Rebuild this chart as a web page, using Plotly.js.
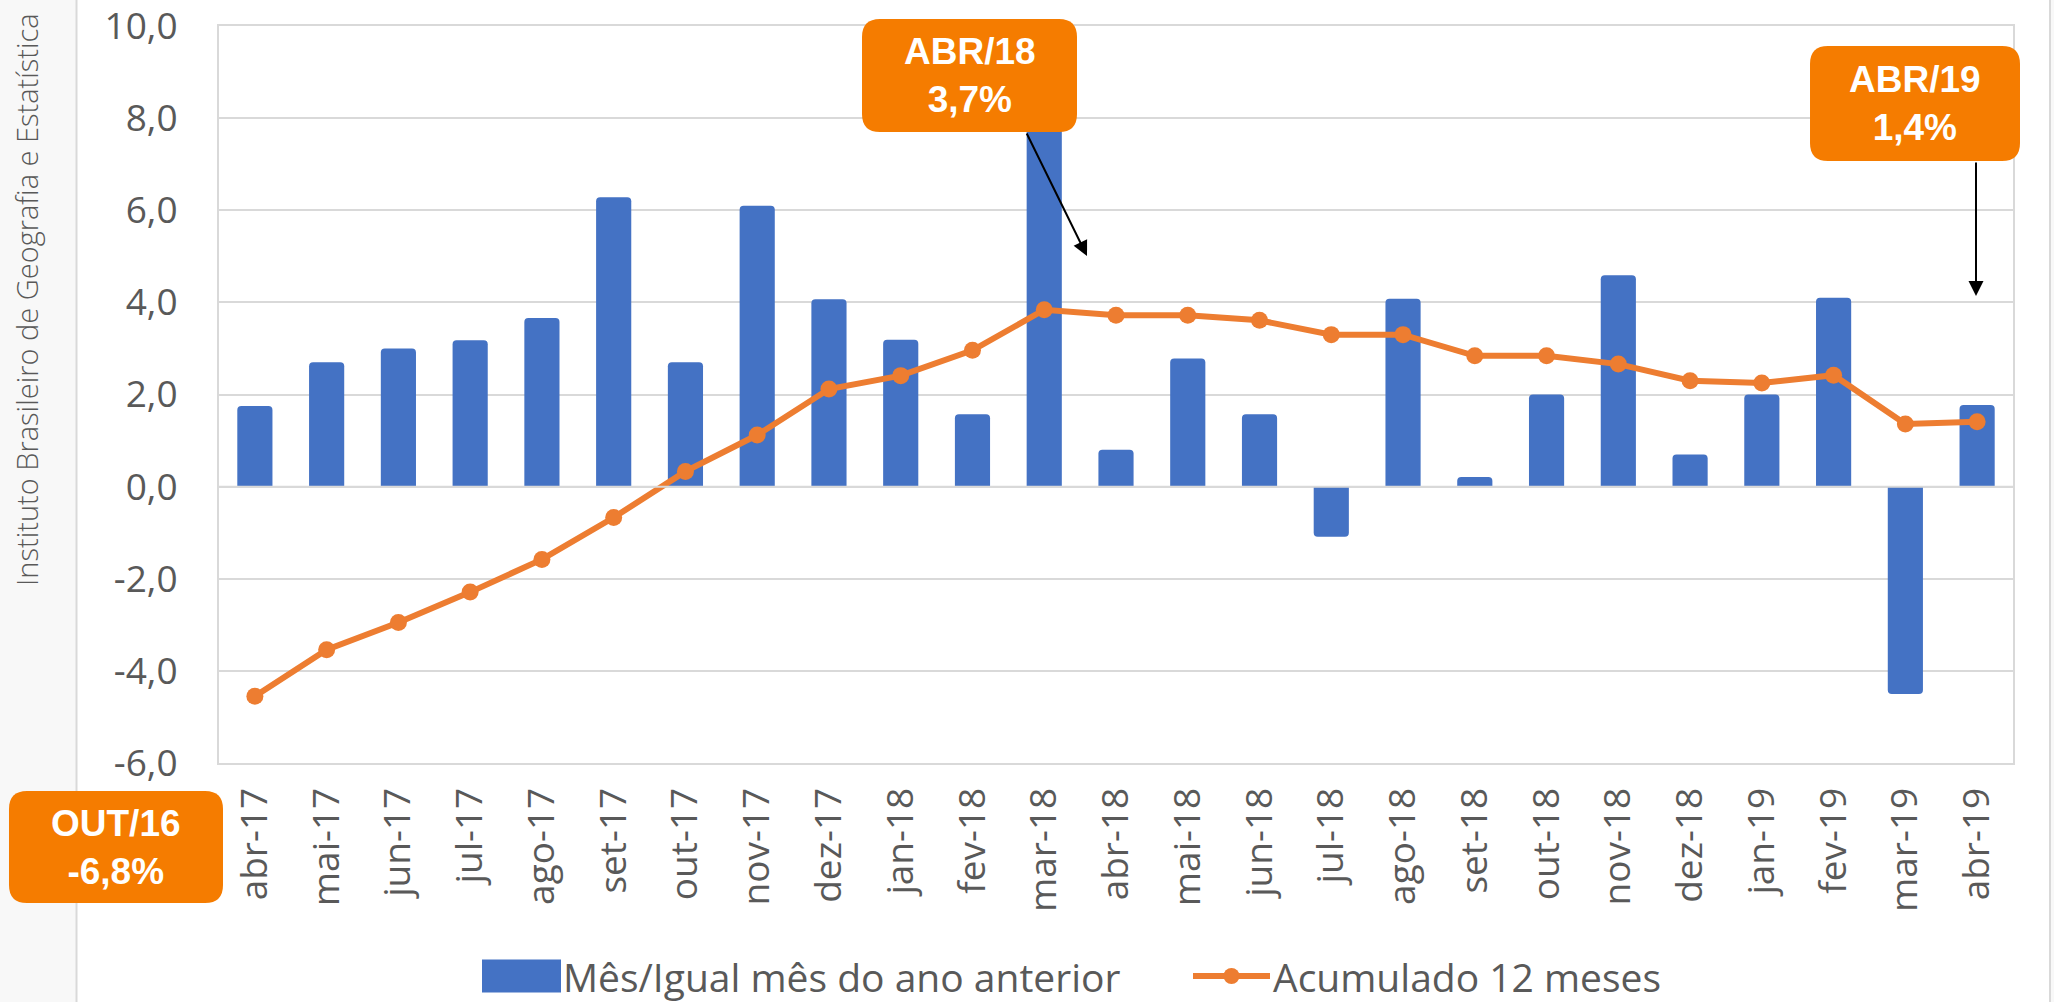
<!DOCTYPE html>
<html>
<head>
<meta charset="utf-8">
<script src="https://cdn.plot.ly/plotly-3.0.1.min.js"></script>
<style>
html,body{margin:0;padding:0;background:#ffffff;}
#chart{width:2054px;height:1002px;}
</style>
</head>
<body>
<div id="chart"></div>
<script>
// ---------------- DATA ----------------
const categories = ['abr-17','mai-17','jun-17','jul-17','ago-17','set-17','out-17','nov-17','dez-17',
  'jan-18','fev-18','mar-18','abr-18','mai-18','jun-18','jul-18','ago-18','set-18','out-18','nov-18','dez-18',
  'jan-19','fev-19','mar-19','abr-19'];
const monthVsSameMonth = [1.75, 2.70, 3.00, 3.18, 3.66, 6.28, 2.70, 6.10, 4.07,
  3.19, 1.57, 8.60, 0.80, 2.78, 1.57, -1.09, 4.08, 0.21, 2.00, 4.59, 0.70,
  2.00, 4.10, -4.50, 1.77];
const accumulated12m = [-4.55, -3.54, -2.95, -2.29, -1.58, -0.67, 0.33, 1.12, 2.12,
  2.41, 2.96, 3.84, 3.72, 3.72, 3.61, 3.30, 3.30, 2.84, 2.84, 2.66, 2.30,
  2.25, 2.42, 1.36, 1.41];
const seriesNames = ['Mês/Igual mês do ano anterior', 'Acumulado 12 meses'];
const yTickVals = [-6, -4, -2, 0, 2, 4, 6, 8, 10];
const yTickText = ['-6,0', '-4,0', '-2,0', '0,0', '2,0', '4,0', '6,0', '8,0', '10,0'];
const yAxisTitle = 'Instituto Brasileiro de Geografia e Estatística';
const calloutTexts = ['ABR/18<br>3,7%', 'ABR/19<br>1,4%', 'OUT/16<br>-6,8%'];

// ---------------- LAYOUT GEOMETRY (pixels) ----------------
const FW = 2054, FH = 1002;
const L = 219, R = 2013, T = 26, B = 763;
const PW = R - L, PH = B - T;
const px = x => (x - L) / PW;
const py = y => (B - y) / PH;

function roundRect(x0, y0, x1, y1, r) {
  const p = (x, y) => px(x).toFixed(5) + ',' + py(y).toFixed(5);
  return 'M' + p(x0 + r, y0) + ' L' + p(x1 - r, y0) + ' Q' + p(x1, y0) + ' ' + p(x1, y0 + r) +
    ' L' + p(x1, y1 - r) + ' Q' + p(x1, y1) + ' ' + p(x1 - r, y1) +
    ' L' + p(x0 + r, y1) + ' Q' + p(x0, y1) + ' ' + p(x0, y1 - r) +
    ' L' + p(x0, y0 + r) + ' Q' + p(x0, y0) + ' ' + p(x0 + r, y0) + ' Z';
}

const boxes = [
  {x0: 862, y0: 19, x1: 1077, y1: 132},
  {x0: 1810, y0: 46, x1: 2020, y1: 161},
  {x0: 9, y0: 791, x1: 223, y1: 903}
];
const arrows = [
  {tx: 1026, ty: 132, hx: 1087, hy: 256},
  {tx: 1976, ty: 161, hx: 1976, hy: 296}
];

const ORANGE_BOX = '#F57C00';
const GRID = '#d9d9d9';
const TXT = '#595959';

// ---------------- TRACES ----------------
const data = [
  {
    type: 'bar',
    name: seriesNames[0],
    x: categories,
    y: monthVsSameMonth,
    marker: {color: '#4472C4', cornerradius: 4},
    hoverinfo: 'skip'
  },
  {
    type: 'scatter',
    mode: 'lines+markers',
    name: seriesNames[1],
    x: categories,
    y: accumulated12m,
    line: {color: '#ED7D31', width: 6},
    marker: {color: '#ED7D31', size: 17},
    hoverinfo: 'skip'
  }
];

// ---------------- SHAPES ----------------
const shapes = [
  {type: 'rect', xref: 'paper', yref: 'paper', x0: px(0), x1: px(76), y0: py(FH), y1: py(0),
   fillcolor: '#f8f8f8', line: {width: 0}, layer: 'below'},
  {type: 'line', xref: 'paper', yref: 'paper', x0: px(76.5), x1: px(76.5), y0: py(FH), y1: py(0),
   line: {color: GRID, width: 2}, layer: 'below'},
  {type: 'rect', xref: 'paper', yref: 'paper', x0: px(2050), x1: px(2054), y0: py(FH), y1: py(0),
   fillcolor: '#f8f8f8', line: {width: 0}, layer: 'below'},
  {type: 'line', xref: 'paper', yref: 'paper', x0: px(2050), x1: px(2050), y0: py(FH), y1: py(0),
   line: {color: GRID, width: 2}, layer: 'below'},
  {type: 'line', xref: 'paper', yref: 'y', x0: 0, x1: 1, y0: 0, y1: 0,
   line: {color: GRID, width: 2}, layer: 'above'}
];
boxes.forEach(b => shapes.push({
  type: 'path', xref: 'paper', yref: 'paper', path: roundRect(b.x0, b.y0, b.x1, b.y1, 18),
  fillcolor: ORANGE_BOX, line: {width: 0}, layer: 'above'
}));

// ---------------- ANNOTATIONS ----------------
const annotations = [
  {text: yAxisTitle, xref: 'paper', yref: 'paper', x: px(26), y: py(300), textangle: -90,
   showarrow: false, xanchor: 'center', yanchor: 'middle',
   font: {family: 'Open Sans, Noto Sans, sans-serif', size: 29, color: TXT, weight: 300}}
];
boxes.forEach((b, i) => annotations.push({
  text: calloutTexts[i], xref: 'paper', yref: 'paper',
  x: px((b.x0 + b.x1) / 2), y: py((b.y0 + b.y1) / 2),
  showarrow: false, xanchor: 'center', yanchor: 'middle', align: 'center',
  font: {family: 'Liberation Sans, Arial, sans-serif', size: 37, color: '#ffffff', weight: 700}
}));
arrows.forEach(a => annotations.push({
  text: '', xref: 'paper', yref: 'paper', axref: 'paper', ayref: 'paper',
  x: px(a.hx), y: py(a.hy), ax: px(a.tx), ay: py(a.ty),
  showarrow: true, arrowhead: 2, arrowsize: 1.5, arrowwidth: 2, arrowcolor: '#000000',
  standoff: 0, startstandoff: 0
}));

// ---------------- LAYOUT ----------------
const tickFont = {family: 'Open Sans, Noto Sans, sans-serif', size: 37, color: TXT};
const legendCY = 976;
const layout = {
  width: FW, height: FH,
  margin: {l: L, r: FW - R, t: T, b: FH - B, pad: 0, autoexpand: false},
  paper_bgcolor: '#ffffff',
  plot_bgcolor: '#ffffff',
  separators: ',.',
  bargap: 0.51,
  showlegend: true,
  legend: {
    orientation: 'h', xref: 'container', yref: 'container',
    x: 1071 / FW, xanchor: 'center', y: 1 - legendCY / FH, yanchor: 'middle',
    font: {family: 'Open Sans, Noto Sans, sans-serif', size: 39, color: TXT},
    bgcolor: 'rgba(0,0,0,0)', itemwidth: 80, traceorder: 'normal'
  },
  xaxis: {
    type: 'category', range: [-0.5, categories.length - 0.5], autorange: false,
    tickangle: -90, tickfont: tickFont,
    showgrid: false, showline: true, mirror: true, linecolor: GRID, linewidth: 2,
    ticks: '', ticklabelstandoff: 8, automargin: false, fixedrange: true
  },
  yaxis: {
    range: [-6, 10.0005], autorange: false, tickvals: yTickVals, ticktext: yTickText, tickfont: tickFont,
    showgrid: true, gridcolor: GRID, gridwidth: 2, zeroline: false,
    showline: true, mirror: true, linecolor: GRID, linewidth: 2,
    ticks: '', ticklabelstandoff: 32, ticklabeloverflow: 'allow',
    automargin: false, fixedrange: true
  },
  shapes: shapes,
  annotations: annotations
};

Plotly.newPlot('chart', data, layout, {displayModeBar: false, staticPlot: true}).then(gd => {
  // Fine placement of legend entries to match the reference proportions
  const targets = [
    {textLeft: 563, symLeft: 482, symRight: 561, kind: 'bar'},
    {textLeft: 1273, symLeft: 1193, symRight: 1270, kind: 'line'}
  ];
  const cy = legendCY;
  const gdRect = gd.getBoundingClientRect();
  const toLocal = (el, x, y) => {
    const m = el.getScreenCTM().inverse();
    return new DOMPoint(gdRect.left + x, gdRect.top + y).matrixTransform(m);
  };
  gd.querySelectorAll('g.legend [clip-path]').forEach(el => el.removeAttribute('clip-path'));
  const items = gd.querySelectorAll('g.legend g.traces');
  items.forEach((g, i) => {
    const t = targets[i];
    if (!t) return;
    const txt = g.querySelector('text.legendtext');
    if (!txt) return;
    const r = txt.getBoundingClientRect();
    const dx = (gdRect.left + t.textLeft) - r.left;
    const dy = (gdRect.top + cy) - (r.top + r.height / 2);
    const tr = g.getAttribute('transform') || '';
    g.setAttribute('transform', tr + ' translate(' + dx + ',' + dy + ')');
    if (t.kind === 'bar') {
      const paths = Array.from(g.querySelectorAll('.legendpoints path'));
      const p = paths.find(el => { try { return el.getBBox().width > 0; } catch (e) { return false; } });
      if (p) {
        const a = toLocal(p, t.symLeft, cy - 16.5);
        const b = toLocal(p, t.symRight, cy + 16.5);
        p.setAttribute('d', 'M' + a.x + ',' + a.y + 'H' + b.x + 'V' + b.y + 'H' + a.x + 'Z');
      }
    } else {
      const line = g.querySelector('path.js-line');
      if (line) {
        const a = toLocal(line, t.symLeft, cy);
        const b = toLocal(line, t.symRight, cy);
        line.setAttribute('d', 'M' + a.x + ',' + a.y + 'L' + b.x + ',' + b.y);
      }
      const mk = g.querySelector('path.scatterpts');
      if (mk && mk.parentNode) {
        const c = toLocal(mk.parentNode, (t.symLeft + t.symRight) / 2, cy);
        mk.setAttribute('transform', 'translate(' + c.x + ',' + c.y + ')');
      }
    }
  });
});
</script>
</body>
</html>
